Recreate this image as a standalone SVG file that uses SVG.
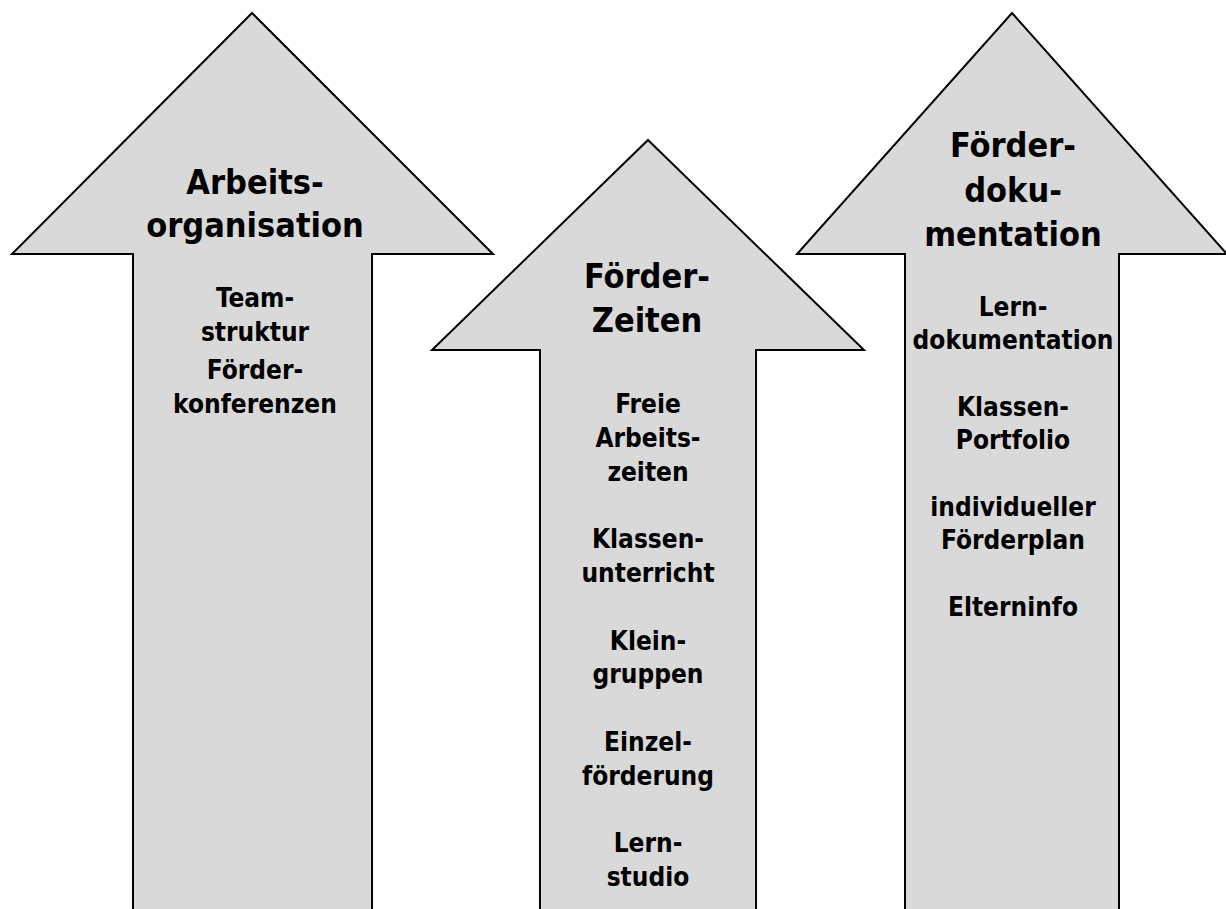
<svg xmlns="http://www.w3.org/2000/svg" width="1226" height="909" viewBox="0 0 1226 909">
<style>
.arrow{fill:#d9d9d9;stroke:#000;stroke-width:2;stroke-linejoin:miter}
.title{font-family:"DejaVu Sans Condensed","DejaVu Sans",sans-serif;font-weight:bold;font-size:34px;fill:#000;text-anchor:middle}
.body{font-family:"DejaVu Sans Condensed","DejaVu Sans",sans-serif;font-weight:bold;font-size:26px;fill:#000;text-anchor:middle}
</style>
<rect width="1226" height="909" fill="#fff"/>
<g id="arrow-arbeitsorganisation">
<path class="arrow" d="M252,13 L493,254 L372,254 L372,915 L133,915 L133,254 L12,254 Z"/>
<text class="title" x="255" y="194">Arbeits-</text>
<text class="title" x="255" y="237">organisation</text>
<text class="body" x="255" y="307">Team-</text>
<text class="body" x="255" y="341">struktur</text>
<text class="body" x="255" y="379">Förder-</text>
<text class="body" x="255" y="413">konferenzen</text>
</g>
<g id="arrow-foerderzeiten">
<path class="arrow" d="M648,140 L864,350 L756,350 L756,915 L540,915 L540,350 L432,350 Z"/>
<text class="title" x="647" y="288">Förder-</text>
<text class="title" x="647" y="332">Zeiten</text>
<text class="body" x="648" y="413">Freie</text>
<text class="body" x="648" y="447">Arbeits-</text>
<text class="body" x="648" y="481">zeiten</text>
<text class="body" x="648" y="548">Klassen-</text>
<text class="body" x="648" y="582">unterricht</text>
<text class="body" x="648" y="650">Klein-</text>
<text class="body" x="648" y="683">gruppen</text>
<text class="body" x="648" y="751">Einzel-</text>
<text class="body" x="648" y="785">förderung</text>
<text class="body" x="648" y="852">Lern-</text>
<text class="body" x="648" y="886">studio</text>
</g>
<g id="arrow-foerderdokumentation">
<path class="arrow" d="M1012,13 L1227,254 L1119,254 L1119,915 L905,915 L905,254 L797,254 Z"/>
<text class="title" x="1013" y="157">Förder-</text>
<text class="title" x="1013" y="202">doku-</text>
<text class="title" x="1013" y="246">mentation</text>
<text class="body" x="1013" y="316">Lern-</text>
<text class="body" x="1013" y="349">dokumentation</text>
<text class="body" x="1013" y="416">Klassen-</text>
<text class="body" x="1013" y="449">Portfolio</text>
<text class="body" x="1013" y="516">individueller</text>
<text class="body" x="1013" y="549">Förderplan</text>
<text class="body" x="1013" y="616">Elterninfo</text>
</g>
<g id="connectors"></g>
</svg>
